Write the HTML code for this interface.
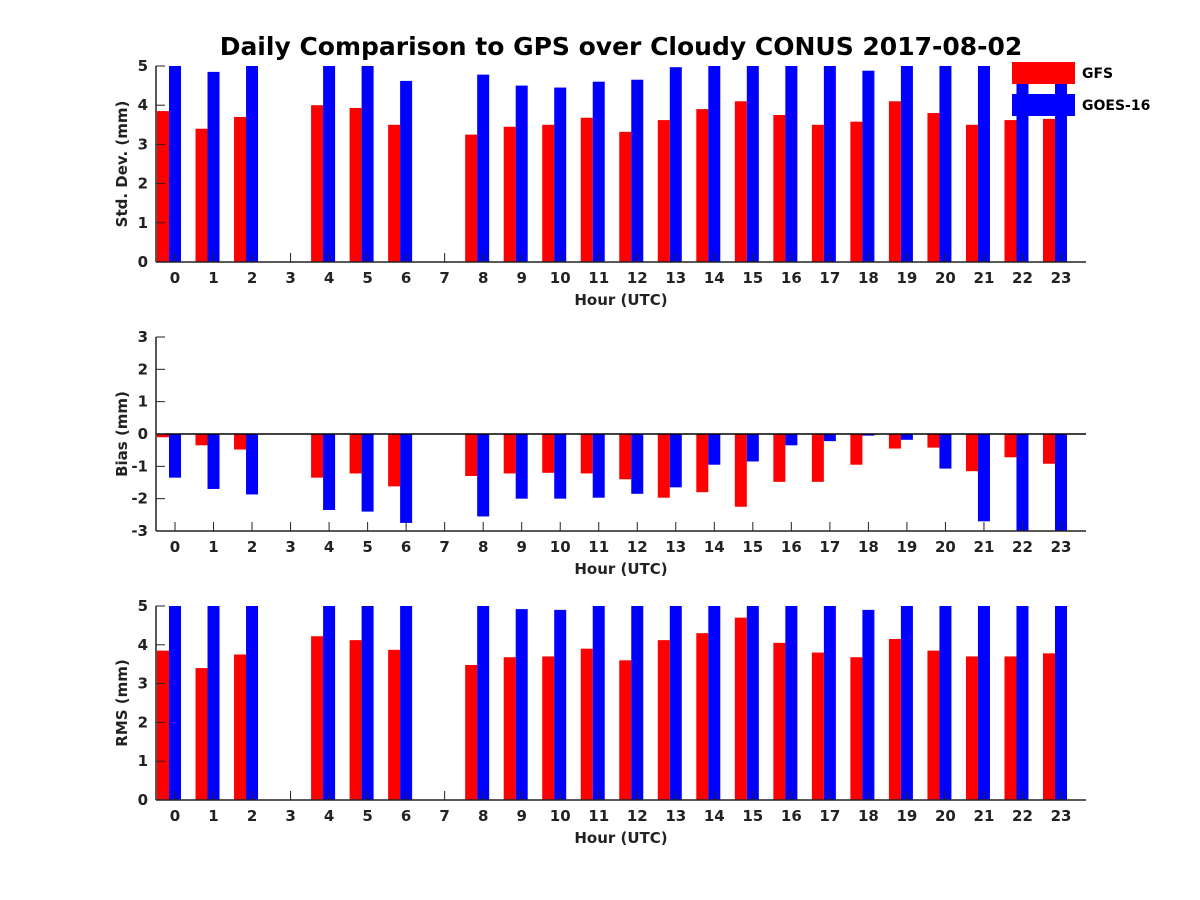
<!DOCTYPE html>
<html><head><meta charset="utf-8"><style>
body{margin:0;background:#fff}
svg{display:block;font-family:"DejaVu Sans","Liberation Sans",sans-serif;font-weight:bold}
</style></head><body>
<svg id="chart" width="1200" height="900">
<text x="621" y="55" text-anchor="middle" font-size="25" fill="#000">Daily Comparison to GPS over Cloudy CONUS 2017-08-02</text>
</svg>
<script>
const hours=[0,1,2,3,4,5,6,7,8,9,10,11,12,13,14,15,16,17,18,19,20,21,22,23];
const stdGFS=[3.85,3.4,3.7,null,4.0,3.93,3.5,null,3.25,3.45,3.5,3.68,3.32,3.62,3.9,4.1,3.75,3.5,3.58,4.1,3.8,3.5,3.62,3.65];
const stdGOES=[5.5,4.85,5.5,null,5.5,5.5,4.62,null,4.78,4.5,4.45,4.6,4.65,4.97,5.5,5.5,5.5,5.5,4.88,5.5,5.5,5.5,5.5,5.5];
const biasGFS=[-0.1,-0.35,-0.48,null,-1.35,-1.22,-1.62,null,-1.3,-1.22,-1.2,-1.22,-1.4,-1.97,-1.8,-2.25,-1.48,-1.48,-0.95,-0.45,-0.42,-1.15,-0.72,-0.92];
const biasGOES=[-1.35,-1.7,-1.87,null,-2.35,-2.4,-2.75,null,-2.55,-2.0,-2.0,-1.97,-1.85,-1.65,-0.95,-0.85,-0.35,-0.22,-0.05,-0.18,-1.07,-2.7,-3.2,-3.2];
const rmsGFS=[3.85,3.4,3.75,null,4.22,4.12,3.87,null,3.48,3.68,3.7,3.9,3.6,4.12,4.3,4.7,4.05,3.8,3.68,4.15,3.85,3.7,3.7,3.78];
const rmsGOES=[5.5,5.5,5.5,null,5.5,5.5,5.5,null,5.5,4.92,4.9,5.5,5.5,5.5,5.5,5.5,5.5,5.5,4.9,5.5,5.5,5.5,5.5,5.5];
const stdTicks=[0,1,2,3,4,5];
const biasTicks=[-3,-2,-1,0,1,2,3];
const rmsTicks=[0,1,2,3,4,5];

const NS='http://www.w3.org/2000/svg';
const svg=document.getElementById('chart');
function mk(tag,attrs,parent){const e=document.createElementNS(NS,tag);for(const k in attrs)e.setAttribute(k,attrs[k]);(parent||svg).appendChild(e);return e;}
const X0=156,X1=1086;
const xs=h=>175+h*(1061-175)/23;

function panel(name,yTop,yBot,ymin,ymax,ticks,ylabel,red,blue,zeroLine){
  const g=mk('g',{});
  
  
  const ys=v=>yBot-(v-ymin)/(ymax-ymin)*(yBot-yTop);
  const clipId='clip-'+name;
  const cp=mk('clipPath',{id:clipId},g);
  mk('rect',{x:X0,y:yTop,width:X1-X0,height:yBot-yTop},cp);
  const bars=mk('g',{'clip-path':'url(#'+clipId+')'},g);
  const base=ys(Math.max(ymin,0));
  hours.forEach((h,i)=>{
    const c=xs(h);
    [[red[i],'#ff0000',c-18,'gfs'],[blue[i],'#0000ff',c-6,'goes']].forEach(([v,col,x,s])=>{
      if(v===null)return;
      const y=ys(v);
      const r=mk('rect',{x:x,y:Math.min(y,base),width:12,height:Math.abs(base-y),fill:col},bars);
      
      
    });
  });
  if(zeroLine){mk('line',{x1:X0,x2:X1,y1:ys(0),y2:ys(0),stroke:'#000','stroke-width':1.5},g);}
  mk('line',{x1:X0,x2:X1,y1:yBot,y2:yBot,stroke:'#222','stroke-width':1.5},g);
  mk('line',{x1:X0,x2:X0,y1:yTop,y2:yBot,stroke:'#222','stroke-width':1.5},g);
  hours.forEach(h=>{
    const c=xs(h);
    mk('line',{x1:c,x2:c,y1:yBot,y2:yBot-9,stroke:'#222'},g);
    const t=mk('text',{x:c,y:yBot+21,'text-anchor':'middle','font-size':15,fill:'#222'},g);
    t.textContent=h;
    
    
  });
  ticks.forEach(v=>{
    const y=ys(v);
    mk('line',{x1:X0,x2:X0+9,y1:y,y2:y,stroke:'#222'},g);
    const t=mk('text',{x:X0-8,y:y+5,'text-anchor':'end','font-size':15,fill:'#222'},g);
    t.textContent=v;
    
    
  });
  const xl=mk('text',{x:621,y:yBot+43,'text-anchor':'middle','font-size':15,fill:'#222'},g);
  xl.textContent='Hour (UTC)';
  
  
  const ym=(yTop+yBot)/2;
  const yl=mk('text',{x:0,y:0,transform:'translate(127,'+ym+') rotate(-90)','text-anchor':'middle','font-size':15,fill:'#222'},g);
  yl.textContent=ylabel;
  
  
}
panel('std',66,262,0,5,stdTicks,'Std. Dev. (mm)',stdGFS,stdGOES,false);
panel('bias',337,531,-3,3,biasTicks,'Bias (mm)',biasGFS,biasGOES,true);
panel('rms',606,800,0,5,rmsTicks,'RMS (mm)',rmsGFS,rmsGOES,false);

const lg=mk('g',{});


mk('rect',{x:1075,y:60,width:90,height:58,fill:'#fff'},lg);
[['GFS','#ff0000',62],['GOES-16','#0000ff',94]].forEach(([n,c,y])=>{
  const e=mk('g',{},lg);
  
  
  mk('rect',{x:1012,y:y,width:63,height:22,fill:c},e);
  const t=mk('text',{x:1082,y:y+16,'font-size':14,fill:'#000'},e);
  t.textContent=n;
});
</script>
</body></html>
